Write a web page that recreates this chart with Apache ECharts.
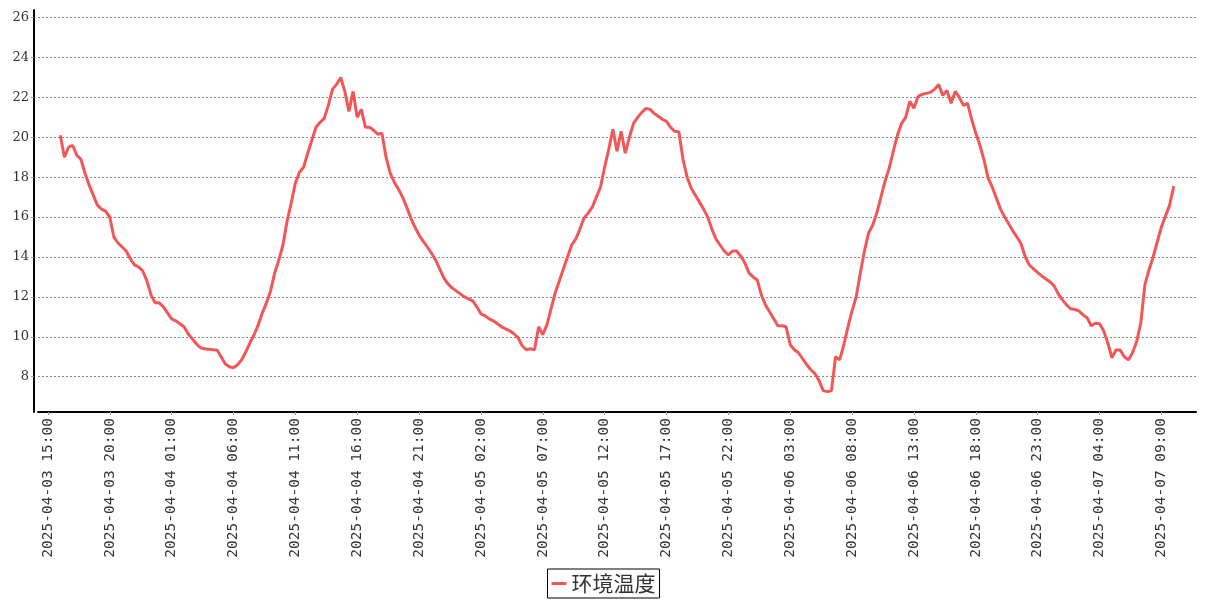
<!DOCTYPE html>
<html>
<head>
<meta charset="utf-8">
<title>环境温度</title>
<script src="https://cdn.jsdelivr.net/npm/echarts@6/dist/echarts.min.js"></script>
<style>
    html, body { margin: 0; padding: 0; background: #fff; }
    #chart { width: 1207px; height: 600px; }
</style>
</head>
<body>
<div id="chart"></div>
<script>
    // readings every 20 minutes, first one at 2025-04-03 16:00
    var seriesName = '环境温度';
    var startTime = '2025-04-03T16:00';
    var stepMinutes = 20;
    var temps = [
        20.1, 19.0, 19.5,   19.6, 19.1, 18.9,   18.2, 17.6, 17.1,   16.6, 16.4, 16.3,
        16.0, 15.0, 14.7,   14.5, 14.3, 13.9,   13.6, 13.5, 13.3,   12.8, 12.1, 11.7,
        11.7, 11.5, 11.2,   10.9, 10.8, 10.65,  10.5, 10.15, 9.9,   9.65, 9.45, 9.4,
        9.37, 9.35, 9.34,   9.0, 8.65, 8.5,     8.45, 8.6, 8.85,    9.25, 9.7, 10.1,
        10.6, 11.2, 11.7,   12.3, 13.2, 13.85,  14.6, 15.8, 16.7,   17.7, 18.25, 18.5,
        19.2, 19.85, 20.5,  20.75, 20.95, 21.6, 22.4, 22.65, 23.0,  22.3, 21.3, 22.3,
        21.0, 21.4, 20.5,   20.5, 20.35, 20.15, 20.2, 19.0, 18.2,   17.75, 17.4, 17.0,
        16.5, 15.95, 15.5,  15.1, 14.8, 14.5,   14.2, 13.85, 13.4,  12.95, 12.65, 12.45,
        12.3, 12.15, 12.0,  11.9, 11.8, 11.5,   11.15, 11.05, 10.9, 10.8, 10.65, 10.5,
        10.4, 10.3, 10.15,  9.95, 9.55, 9.35,   9.4, 9.35, 10.5,    10.1, 10.6, 11.4,
        12.2, 12.8, 13.4,   14.0, 14.6, 14.9,   15.4, 15.95, 16.2,  16.5, 17.0, 17.5,
        18.5, 19.4, 20.4,   19.3, 20.3, 19.2,   20.0, 20.7, 21.0,   21.25, 21.45, 21.4,
        21.2, 21.05, 20.9,  20.8, 20.5, 20.3,   20.28, 18.9, 18.0,  17.45, 17.1, 16.75,
        16.4, 16.0, 15.4,   14.9, 14.6, 14.3,   14.1, 14.3, 14.3,   14.05, 13.7, 13.2,
        13.0, 12.85, 12.1,  11.6, 11.25, 10.9,  10.55, 10.55, 10.5, 9.6, 9.35, 9.2,
        8.9, 8.6, 8.35,     8.15, 7.8, 7.3,     7.25, 7.3, 9.0,     8.84, 9.6, 10.5,
        11.3, 12.0, 13.2,   14.3, 15.2, 15.6,   16.2, 17.0, 17.8,   18.45, 19.3, 20.1,
        20.7, 21.0, 21.8,   21.45, 22.05, 22.15, 22.2, 22.25, 22.4, 22.65, 22.1, 22.35,
        21.7, 22.3, 22.0,   21.6, 21.7, 20.9,   20.2, 19.6, 18.85,  17.95, 17.5, 16.95,
        16.4, 16.0, 15.65,  15.3, 15.0, 14.65,  14.0, 13.6, 13.4,   13.22, 13.05, 12.9,
        12.75, 12.55, 12.15, 11.85, 11.6, 11.4, 11.37, 11.3, 11.1,  10.95, 10.55, 10.68,
        10.65, 10.3, 9.7,   8.95, 9.34, 9.34,   9.0, 8.84, 9.2,     9.75, 10.68, 12.6,
        13.35, 14.0, 14.75, 15.5, 16.05, 16.6,  17.55
    ];
    var timeLabels = [
        '2025-04-03 15:00', '2025-04-03 20:00', '2025-04-04 01:00', '2025-04-04 06:00',
        '2025-04-04 11:00', '2025-04-04 16:00', '2025-04-04 21:00', '2025-04-05 02:00',
        '2025-04-05 07:00', '2025-04-05 12:00', '2025-04-05 17:00', '2025-04-05 22:00',
        '2025-04-06 03:00', '2025-04-06 08:00', '2025-04-06 13:00', '2025-04-06 18:00',
        '2025-04-06 23:00', '2025-04-07 04:00', '2025-04-07 09:00'
    ];
    var tempTicks = [8, 10, 12, 14, 16, 18, 20, 22, 24, 26];

    function toTime(s) {
        return new Date(s.replace(' ', 'T')).getTime();
    }

    var t0 = toTime(startTime);
    var data = temps.map(function (v, i) {
        return [t0 + i * stepMinutes * 60000, v];
    });
    var tEnd = data[data.length - 1][0];
    var pad = (tEnd - t0) * 0.02;

    var myChart = echarts.init(document.getElementById('chart'));
    myChart.setOption({
        animation: false,
        grid: {
            left: 38,
            right: 11,
            top: 10,
            bottom: 188
        },
        legend: {
            bottom: 2,
            left: 'center',
            data: [seriesName],
            icon: 'rect',
            itemWidth: 15,
            itemHeight: 3,
            itemGap: 5,
            padding: [4, 4],
            borderColor: '#000',
            borderWidth: 1,
            textStyle: {
                fontSize: 21,
                color: '#333',
                fontFamily: 'Noto Sans CJK SC'
            }
        },
        xAxis: {
            type: 'value',
            min: t0 - pad,
            max: tEnd + pad,
            axisLine: {
                lineStyle: { color: '#000', width: 2 }
            },
            axisTick: {
                show: true,
                length: 3,
                lineStyle: { color: '#999' },
                customValues: timeLabels.map(toTime)
            },
            axisLabel: {
                rotate: 90,
                margin: 6,
                fontSize: 14.5,
                fontFamily: 'DejaVu Sans Mono',
                color: '#333',
                customValues: timeLabels.map(toTime),
                formatter: function (v) {
                    return echarts.time.format(v, '{yyyy}-{MM}-{dd} {HH}:{mm}', false);
                }
            },
            splitLine: { show: false }
        },
        yAxis: {
            type: 'value',
            min: 6.23,
            max: 26.38,
            offset: 4,
            axisLine: {
                show: true,
                lineStyle: { color: '#000', width: 2 }
            },
            axisTick: {
                show: true,
                length: 3,
                lineStyle: { color: '#999' },
                customValues: tempTicks
            },
            axisLabel: {
                margin: 5,
                fontSize: 13,
                fontFamily: 'DejaVu Serif',
                color: '#333',
                customValues: tempTicks
            },
            splitLine: {
                show: true,
                lineStyle: { color: '#888', type: [2, 2], width: 1 }
            }
        },
        series: [
            {
                name: seriesName,
                type: 'line',
                data: data,
                showSymbol: false,
                symbol: 'none',
                color: '#f25757',
                lineStyle: { width: 3, color: '#f25757' }
            }
        ]
    });
    window.addEventListener('resize', function () {
        myChart.resize();
    });
</script>
</body>
</html>
